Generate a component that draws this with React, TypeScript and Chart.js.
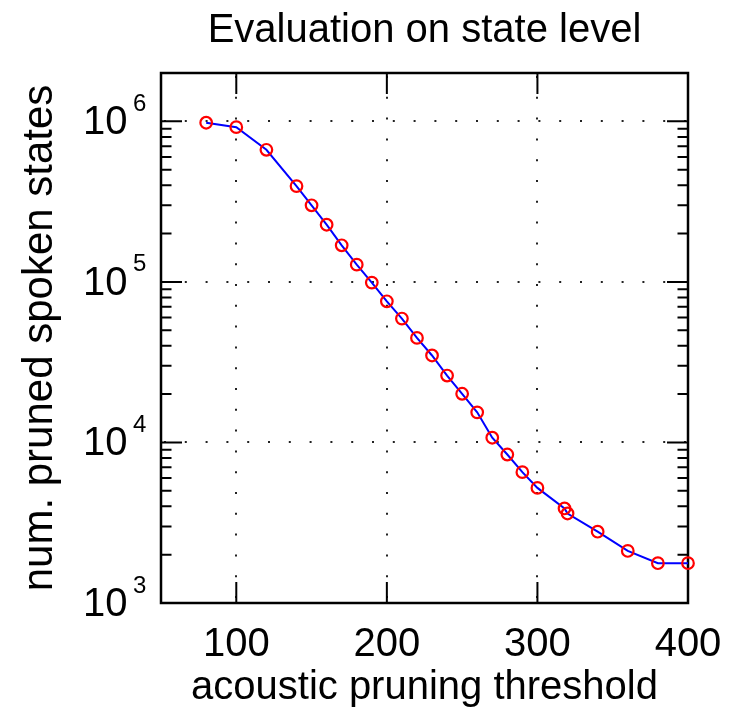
import React, { useEffect, useRef } from 'react';
import { Chart, registerables } from 'chart.js';

Chart.register(...registerables);

// ---- data ----
const thresholds = [80, 100, 120, 140, 150, 160, 170, 180, 190, 200, 210, 220, 230, 240, 250, 260, 270, 280, 290, 300, 318, 320, 340, 360, 380, 400];
const prunedStates = [980000, 920000, 665000, 395000, 300000, 227000, 169000, 128000, 99000, 75700, 59100, 44800, 34800, 26100, 20100, 15400, 10700, 8410, 6530, 5210, 3880, 3610, 2780, 2110, 1770, 1770];
const xTickValues = [100, 200, 300, 400];
const yDecades = [1000, 10000, 100000, 1000000];
const yExponents = ['3', '4', '5', '6'];
const yMinorMultipliers = [2, 3, 4, 5, 6, 7, 8, 9];
const titleText = 'Evaluation on state level';
const xTitleText = 'acoustic pruning threshold';
const yTitleText = 'num. pruned spoken states';

const FONT = '"Liberation Sans", Arial, Helvetica, sans-serif';

const framePlugin = {
  id: 'matlabFrame',
  beforeDatasetsDraw(chart: any) {
    const { ctx, chartArea, scales } = chart;
    const { left, right, top, bottom } = chartArea;
    const x = scales.x;
    const y = scales.y;
    ctx.save();
    ctx.strokeStyle = '#000';
    ctx.lineCap = 'butt';
    ctx.lineWidth = 2;
    const major = 21;
    const minor = 10.5;
    ctx.beginPath();
    xTickValues.forEach((v) => {
      const px = x.getPixelForValue(v);
      ctx.moveTo(px, bottom);
      ctx.lineTo(px, bottom - major);
      ctx.moveTo(px, top);
      ctx.lineTo(px, top + major);
    });
    yDecades.forEach((d) => {
      const py = y.getPixelForValue(d);
      ctx.moveTo(left, py);
      ctx.lineTo(left + major, py);
      ctx.moveTo(right, py);
      ctx.lineTo(right - major, py);
      yMinorMultipliers.forEach((m) => {
        const v = d * m;
        if (v < y.max) {
          const pm = y.getPixelForValue(v);
          ctx.moveTo(left, pm);
          ctx.lineTo(left + minor, pm);
          ctx.moveTo(right, pm);
          ctx.lineTo(right - minor, pm);
        }
      });
    });
    ctx.stroke();
    ctx.lineWidth = 2.5;
    ctx.strokeRect(left, top, right - left, bottom - top);
    ctx.restore();
  },
  afterDraw(chart: any) {
    const { ctx, scales } = chart;
    const y = scales.y;
    ctx.save();
    ctx.fillStyle = '#000';
    ctx.textAlign = 'left';
    ctx.textBaseline = 'alphabetic';
    yDecades.forEach((d, i) => {
      const py = y.getPixelForValue(d);
      ctx.font = `40px ${FONT}`;
      ctx.fillText('10', 83, py + 13);
      ctx.font = `24px ${FONT}`;
      ctx.fillText(yExponents[i], 133, py - 10.5);
    });
    ctx.restore();
  },
};

export default function App() {
  const canvasRef = useRef<HTMLCanvasElement | null>(null);

  useEffect(() => {
    const canvas = canvasRef.current;
    if (!canvas) return;
    const chart = new Chart(canvas, {
      type: 'line',
      data: {
        datasets: [
          {
            data: thresholds.map((t, i) => ({ x: t, y: prunedStates[i] })),
            borderColor: '#0000ff',
            borderWidth: 2,
            tension: 0,
            pointStyle: 'circle',
            pointRadius: 5.8,
            pointBorderWidth: 2.2,
            pointBorderColor: '#ff0000',
            pointBackgroundColor: 'rgba(0,0,0,0)',
            fill: false,
            clip: false,
          } as any,
        ],
      },
      options: {
        responsive: false,
        devicePixelRatio: 1,
        animation: false,
        events: [],
        layout: { padding: { left: 0, right: 43, top: 0, bottom: 0 } },
        plugins: {
          legend: { display: false },
          tooltip: { enabled: false },
          title: {
            display: true,
            text: titleText,
            fullSize: false,
            color: '#000',
            font: { family: FONT, size: 40, weight: 'normal', lineHeight: 1.2 },
            padding: { top: 7, bottom: 18 },
          },
        },
        scales: {
          x: {
            type: 'linear',
            min: 50,
            max: 400,
            afterBuildTicks: (scale: any) => {
              scale.ticks = xTickValues.map((v) => ({ value: v }));
            },
            afterFit: (scale: any) => {
              scale.height = 112;
            },
            ticks: {
              color: '#000',
              font: { family: FONT, size: 40, lineHeight: 1.2 },
              padding: 0,
              maxRotation: 0,
              autoSkip: false,
            },
            grid: {
              color: '#222',
              lineWidth: 2,
              drawTicks: true,
              tickLength: 17.5,
              tickColor: 'rgba(0,0,0,0)',
            },
            border: { display: false, dash: [2, 18.8], dashOffset: -3 },
            title: {
              display: true,
              text: xTitleText,
              color: '#000',
              font: { family: FONT, size: 40, lineHeight: 1.2 },
              padding: { top: 0, bottom: 3 },
            },
          },
          y: {
            type: 'logarithmic',
            min: 1000,
            max: 2000000,
            afterBuildTicks: (scale: any) => {
              scale.ticks = yDecades.map((v) => ({ value: v }));
            },
            afterFit: (scale: any) => {
              scale.width = 161;
            },
            ticks: { display: false },
            grid: { color: '#222', lineWidth: 2, drawTicks: false },
            border: { display: false, dash: [2, 18.8], dashOffset: -3 },
            title: {
              display: true,
              text: yTitleText,
              color: '#000',
              font: { family: FONT, size: 42, lineHeight: 1.2 },
              padding: { top: 15, bottom: 0 },
            },
          },
        },
      } as any,
      plugins: [framePlugin],
    });
    return () => chart.destroy();
  }, []);

  return (
    <canvas
      ref={canvasRef}
      width={731}
      height={715}
      style={{ display: 'block', position: 'absolute', left: 0, top: 0, background: '#fff' }}
    />
  );
}
